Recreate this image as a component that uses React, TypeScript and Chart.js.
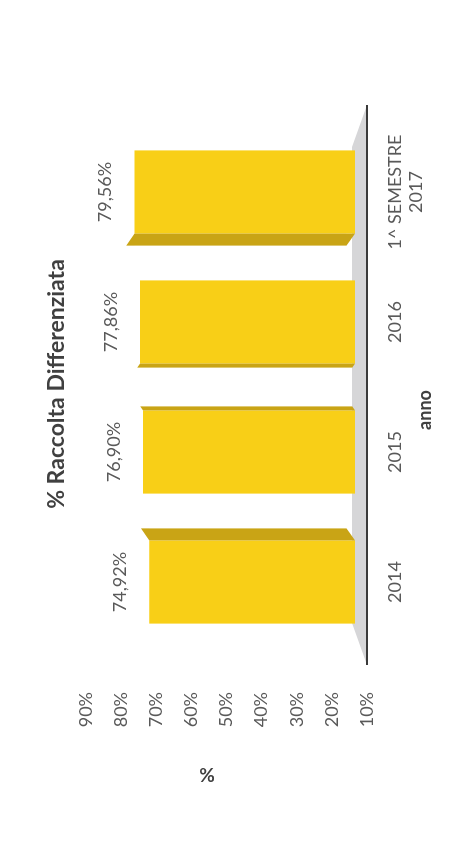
import React, { useEffect, useRef } from "react";
import { Chart, registerables } from "chart.js";

Chart.register(...registerables);

// ---- data ----
const categories: (string | string[])[] = ["2014", "2015", "2016", ["1^ SEMESTRE", "2017"]];
const values: number[] = [74.92, 76.9, 77.86, 79.56];
const valueLabels: string[] = ["74,92%", "76,90%", "77,86%", "79,56%"];
const axisMin = 10;
const axisMax = 90;
const axisStep = 10;
const chartTitle = "% Raccolta Differenziata";
const xTitle = "anno";
const yTitle = "%";

// canvas drawn in the chart's own orientation, then rotated to portrait
const W = 842;
const H = 449;
const FONT = "Lato, 'Open Sans', sans-serif";

const decorPlugin = {
  id: "decor3d",
  beforeDatasetsDraw(chart: any) {
    const { ctx, chartArea } = chart;
    const { left, right, bottom } = chartArea;
    ctx.save();
    ctx.fillStyle = "#d6d6d8";
    ctx.beginPath();
    ctx.moveTo(left - 18, bottom);
    ctx.lineTo(right + 22, bottom);
    ctx.lineTo(right - 20, bottom - 15);
    ctx.lineTo(left + 24, bottom - 15);
    ctx.closePath();
    ctx.fill();
    ctx.restore();
  },
  afterDatasetsDraw(chart: any) {
    const { ctx, chartArea } = chart;
    const { left, right, bottom } = chartArea;
    const meta = chart.getDatasetMeta(0);
    const cx = (left + right) / 2;
    const spacing = (right - left) / categories.length;
    ctx.save();
    meta.data.forEach((bar: any, i: number) => {
      const { x, y, base, width } = bar.getProps(["x", "y", "base", "width"], true);
      const d = (x - cx) / spacing;
      const sw = Math.abs(d) * 8;
      const dv = sw * 0.7;
      const edge = d < 0 ? x + width / 2 : x - width / 2;
      const dir = d < 0 ? 1 : -1;
      ctx.fillStyle = "#c9a415";
      ctx.beginPath();
      ctx.moveTo(edge, y);
      ctx.lineTo(edge + dir * sw, y - dv);
      ctx.lineTo(edge + dir * sw, base - dv);
      ctx.lineTo(edge, base);
      ctx.closePath();
      ctx.fill();
      ctx.fillStyle = "#595959";
      ctx.font = `18px ${FONT}`;
      ctx.textAlign = "center";
      ctx.textBaseline = "middle";
      ctx.fillText(valueLabels[i], x, y - 29);
    });
    ctx.strokeStyle = "#3a3a3a";
    ctx.lineWidth = 2;
    ctx.beginPath();
    ctx.moveTo(left - 18, bottom);
    ctx.lineTo(right + 22, bottom);
    ctx.stroke();
    ctx.restore();
  },
  afterDraw(chart: any) {
    const { ctx } = chart;
    ctx.save();
    ctx.fillStyle = "#404040";
    ctx.textAlign = "center";
    ctx.textBaseline = "middle";
    ctx.font = `bold 23px ${FONT}`;
    ctx.fillText(chartTitle, 458, 57);
    ctx.font = `bold 18px ${FONT}`;
    ctx.fillText(xTitle, 432, 425);
    ctx.translate(68, 207);
    ctx.rotate(-Math.PI / 2);
    ctx.font = `bold 19px ${FONT}`;
    ctx.fillText(yTitle, 0, 0);
    ctx.restore();
  },
};

export default function App() {
  const ref = useRef<HTMLCanvasElement>(null);
  useEffect(() => {
    document.body.style.margin = "0";
    const chart = new Chart(ref.current as HTMLCanvasElement, {
      type: "bar",
      data: {
        labels: categories as any,
        datasets: [
          {
            data: values,
            yAxisID: "yBar",
            base: 10,
            backgroundColor: "#f8cf17",
            borderWidth: 0,
            barPercentage: 0.64,
            categoryPercentage: 1,
          } as any,
        ],
      },
      options: {
        responsive: false,
        animation: false,
        devicePixelRatio: 1,
        layout: { padding: { left: 0, right: W - 715, top: 86, bottom: 0 } },
        plugins: { legend: { display: false }, tooltip: { enabled: false }, title: { display: false } },
        scales: {
          x: {
            type: "category",
            grid: { display: false, drawTicks: false },
            border: { display: false },
            ticks: {
              font: { family: FONT, size: 18 },
              color: "#595959",
              padding: 17,
              maxRotation: 0,
              minRotation: 0,
              autoSkip: false,
            },
            afterFit: (s: any) => {
              s.height = H - 367;
            },
          },
          y: {
            position: "left",
            min: axisMin,
            max: axisMax,
            grid: { display: false, drawTicks: false },
            border: { display: false },
            ticks: {
              stepSize: axisStep,
              padding: 45,
              font: { family: FONT, size: 18 },
              color: "#595959",
              callback: (v: any) => `${v}%`,
            },
            afterFit: (s: any) => {
              s.width = 195;
            },
          },
          yBar: {
            display: false,
            position: "left",
            min: 6.2,
            max: 94.9,
          },
        },
      } as any,
      plugins: [decorPlugin],
    });
    return () => chart.destroy();
  }, []);

  return (
    <div
      style={{
        position: "fixed",
        left: 0,
        top: 0,
        width: W,
        height: H,
        background: "#ffffff",
        transformOrigin: "0 0",
        transform: `translate(0px, ${W}px) rotate(-90deg)`,
      }}
    >
      <canvas ref={ref} width={W} height={H} style={{ display: "block", width: W, height: H }} />
    </div>
  );
}
